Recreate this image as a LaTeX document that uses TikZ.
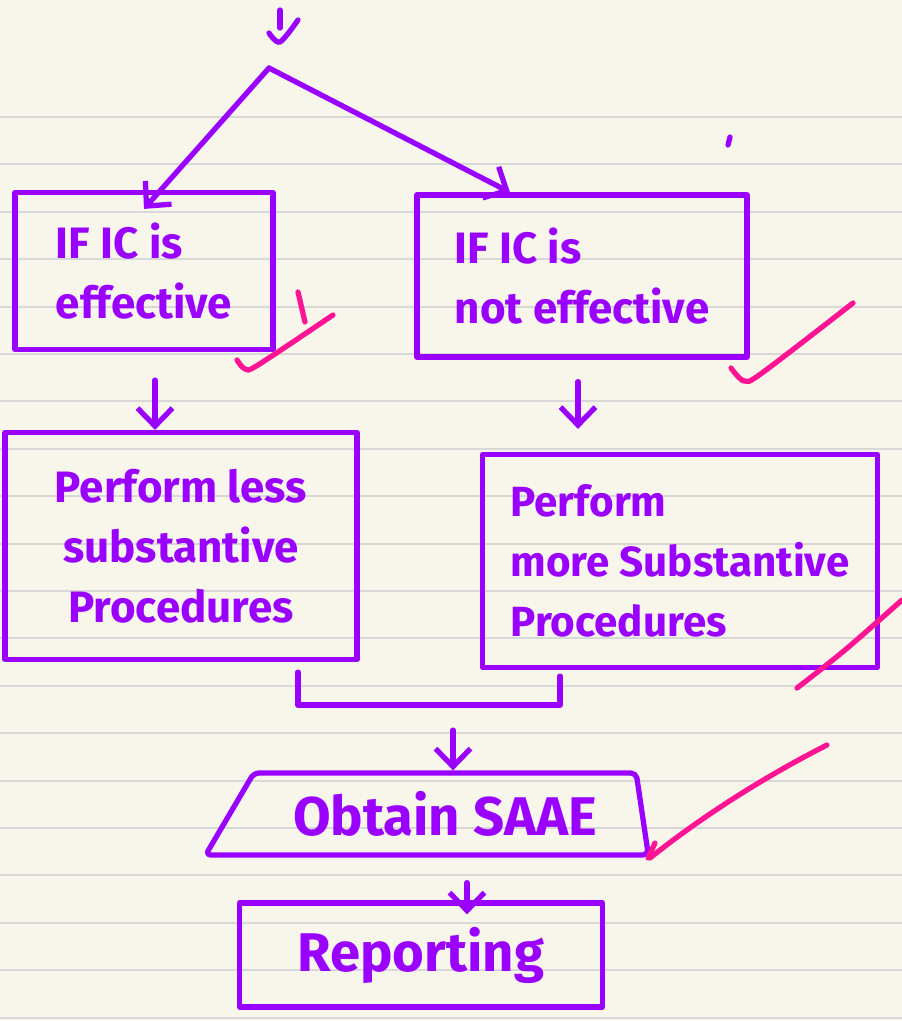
\documentclass[tikz,border=0pt]{standalone}
\usepackage{fontspec}
\setmainfont{Fira Sans}
\usetikzlibrary{arrows.meta,calc,shapes.geometric}
\definecolor{inkpurple}{HTML}{9A00FF}
\definecolor{inkpink}{HTML}{FF1493}
\definecolor{paper}{HTML}{F8F6EA}
\definecolor{ruling}{HTML}{D8D8D8}

\begin{document}
\begin{tikzpicture}[x=0.02cm, y=-0.02cm,
    >={Straight Barb[length=3.6mm, width=7mm]},
    ink/.style={draw=inkpurple, line width=3pt, line cap=round, line join=round},
    box/.style={ink, text=inkpurple, font=\bfseries\fontsize{25}{34}\selectfont},
    tick/.style={draw=inkpink, line width=3pt, line cap=round, line join=round}]
    % paper and ruling
    \fill[paper] (0,0) rectangle (902,1021);
    \useasboundingbox (0,0) rectangle (902,1021);
    \foreach \k in {0,...,19}
        \draw[ruling, line width=1.1pt] (0,{117+47.4*\k}) -- (902,{117+47.4*\k});

    \coordinate (apex) at (269,68);

    \node[box, minimum width=5.16cm, minimum height=3.14cm, align=left] (eff) at (144,271) {IF IC is\\effective};
    \node[box, minimum width=6.6cm, minimum height=3.24cm, align=left] (noteff) at (582,276) {IF IC is\\not effective};
    \node[box, minimum width=7.04cm, minimum height=4.54cm, align=center] (less) at (181,546) {Perform less\\substantive\\Procedures};
    \node[box, minimum width=7.9cm, minimum height=4.26cm, align=left,
        font=\bfseries\fontsize{24}{34}\selectfont] (more) at (680,561) {Perform\\more Substantive\\Procedures};
    \node[box, trapezium, trapezium stretches=true, trapezium left angle=55, trapezium right angle=80,
        minimum width=8.86cm, minimum height=1.64cm, rounded corners=3pt,
        font=\bfseries\fontsize{31}{36}\selectfont] (saae) at (445,814) {Obtain SAAE};
    \node[box, minimum width=7.26cm, minimum height=2.08cm,
        font=\bfseries\fontsize{31}{36}\selectfont] (report) at (421,955) {Reporting};

    % incoming mark at the top
    \draw[ink] (280,10) -- (280,28);
    \draw[ink] plot[smooth] coordinates {(269,33) (280,42) (298,20)};

    % split into the two cases
    \draw[ink, ->] (apex) -- ($(eff.north)+(0,19)$);
    \draw[ink, ->] (apex) -- ($(noteff.north)+(-72,0)$);
    \draw[ink] (730,137) -- (728,145);

    \coordinate (effout) at ($(eff.south)+(11,28)$);
    \coordinate (noteffout) at ($(noteff.south)+(-4,22)$);
    \draw[ink, ->] (effout) -- (effout |- less.north);
    \draw[ink, ->] (noteffout) -- ($(more.north)+(-102,-23)$);

    % join the two branches
    \draw[ink] ($(less.south)+(117,10)$) |- coordinate[pos=0.75] (join) ($(more.south)+(-120,35)$) -- ($(more.south)+(-120,6)$);
    \coordinate (joinout) at ($(join)+(24,25)$);
    \draw[ink, ->] (joinout) -- (joinout |- saae.north);

    \coordinate (repin) at ($(report.north)+(46,14)$);
    \path (repin |- saae.south) coordinate (saaebot);
    \draw[ink, ->] ($(saaebot)+(0,25)$) -- (repin);

    % ticks
    \draw[tick] plot[smooth] coordinates {(237,360) (245,369) (258,365) (333,315)};
    \draw[tick] (298,292) -- (305,322);
    \draw[tick] plot[smooth] coordinates {(731,368) (744,381) (762,373) (853,303)};
    \draw[tick] plot[smooth] coordinates {(797,688) (845,650) (902,600)};
    \draw[tick] (827,745) .. controls (762,778) and (700,818) .. (650,858);
    \draw[tick] (655,843) -- (648,858);
\end{tikzpicture}
\end{document}
